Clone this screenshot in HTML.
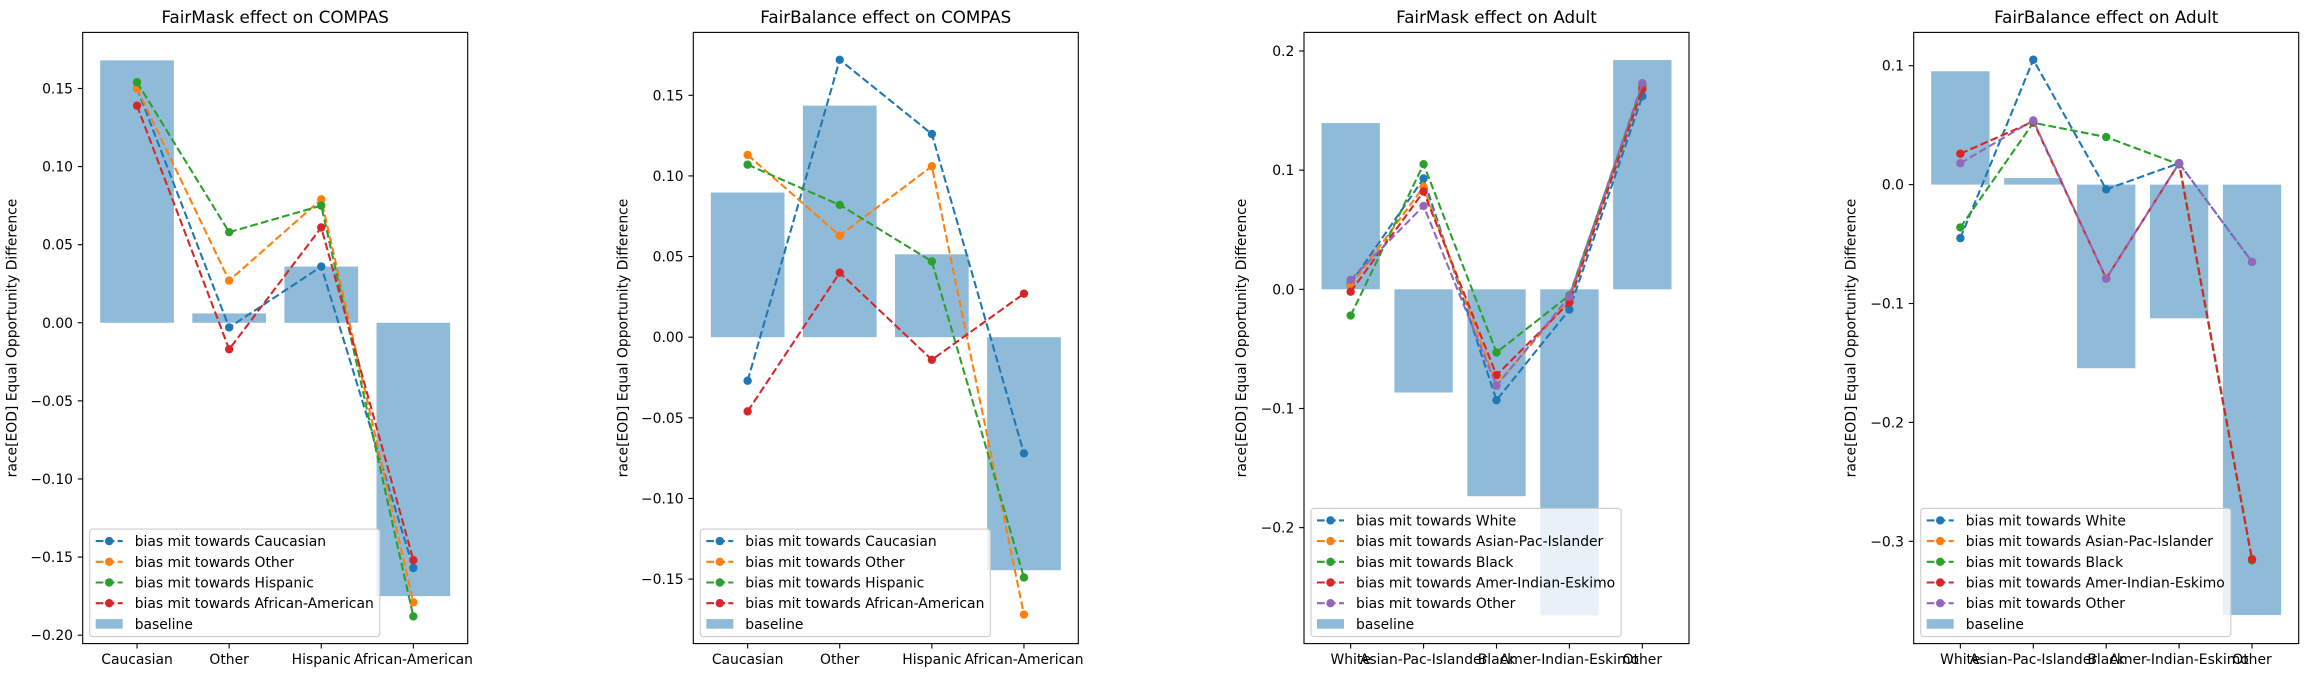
<!DOCTYPE html>
<html><head><meta charset="utf-8">
<style>
html,body{margin:0;padding:0;background:#fff;}
svg{display:block;font-family:"DejaVu Sans","Liberation Sans",sans-serif;}
</style></head>
<body>
<svg id="fig" width="2308" height="679" viewBox="0 0 2308 679" xmlns="http://www.w3.org/2000/svg"></svg>
<script>
// ---------- data ----------
const p1Title = "FairMask effect on COMPAS";
const p1Cats = ["Caucasian","Other","Hispanic","African-American"];
const p1Baseline = [0.168, 0.006, 0.036, -0.175];
const p1SeriesNames = ["bias mit towards Caucasian","bias mit towards Other","bias mit towards Hispanic","bias mit towards African-American"];
const p1S0 = [0.150, -0.003, 0.036, -0.157];
const p1S1 = [0.150, 0.027, 0.079, -0.179];
const p1S2 = [0.154, 0.058, 0.075, -0.188];
const p1S3 = [0.139, -0.017, 0.061, -0.152];
const p1Ticks = [-0.20,-0.15,-0.10,-0.05,0.00,0.05,0.10,0.15];
const p1TickLabels = ["−0.20","−0.15","−0.10","−0.05","0.00","0.05","0.10","0.15"];
const p1YLim = [-0.2054, 0.1859];

const p2Title = "FairBalance effect on COMPAS";
const p2Cats = ["Caucasian","Other","Hispanic","African-American"];
const p2Baseline = [0.0897, 0.1436, 0.0514, -0.1445];
const p2SeriesNames = p1SeriesNames;
const p2S0 = [-0.027, 0.172, 0.126, -0.072];
const p2S1 = [0.113, 0.063, 0.106, -0.172];
const p2S2 = [0.107, 0.082, 0.047, -0.149];
const p2S3 = [-0.046, 0.040, -0.014, 0.027];
const p2Ticks = [-0.15,-0.10,-0.05,0.00,0.05,0.10,0.15];
const p2TickLabels = ["−0.15","−0.10","−0.05","0.00","0.05","0.10","0.15"];
const p2YLim = [-0.190, 0.189];

const p3Title = "FairMask effect on Adult";
const p3Cats = ["White","Asian-Pac-Islander","Black","Amer-Indian-Eskimo","Other"];
const p3Baseline = [0.1395, -0.0866, -0.1736, -0.2736, 0.1924];
const p3SeriesNames = ["bias mit towards White","bias mit towards Asian-Pac-Islander","bias mit towards Black","bias mit towards Amer-Indian-Eskimo","bias mit towards Other"];
const p3S0 = [0.005, 0.093, -0.093, -0.017, 0.162];
const p3S1 = [0.003, 0.086, -0.080, -0.009, 0.170];
const p3S2 = [-0.022, 0.105, -0.053, -0.005, 0.171];
const p3S3 = [-0.002, 0.082, -0.072, -0.011, 0.168];
const p3S4 = [0.008, 0.070, -0.081, -0.006, 0.173];
const p3Ticks = [-0.2,-0.1,0.0,0.1,0.2];
const p3TickLabels = ["−0.2","−0.1","0.0","0.1","0.2"];
const p3YLim = [-0.2973, 0.2156];

const p4Title = "FairBalance effect on Adult";
const p4Cats = p3Cats;
const p4Baseline = [0.0953, 0.0055, -0.1544, -0.1124, -0.362];
const p4SeriesNames = p3SeriesNames;
const p4S0 = [-0.045, 0.105, -0.004, 0.018, -0.065];
const p4S1 = [0.026, 0.053, -0.079, 0.018, -0.315];
const p4S2 = [-0.036, 0.052, 0.040, 0.017, -0.316];
const p4S3 = [0.026, 0.053, -0.079, 0.018, -0.315];
const p4S4 = [0.018, 0.054, -0.079, 0.018, -0.065];
const p4Ticks = [-0.3,-0.2,-0.1,0.0,0.1];
const p4TickLabels = ["−0.3","−0.2","−0.1","0.0","0.1"];
const p4YLim = [-0.386, 0.128];

const colors = ["#1f77b4","#ff7f0e","#2ca02c","#d62728","#9467bd"];
const NS = "http://www.w3.org/2000/svg";
const svg = document.getElementById("fig");
function mk(tag, attrs, parent){
  const e = document.createElementNS(NS, tag);
  for (const k in attrs) e.setAttribute(k, attrs[k]);
  (parent||svg).appendChild(e);
  return e;
}

function panel(idx, left, ylabOff, title, cats, baseline, names, series, ticks, tickLabels, ylim){
  const top = 32.4, bottom = 643.6, width = 385, right = left + width;
  const n = cats.length;
  const xmin = -0.4 - 0.05*(n - 0.2), xmax = n - 1 + 0.4 + 0.05*(n - 0.2);
  const xS = v => left + (v - xmin) / (xmax - xmin) * width;
  const yS = v => bottom - (v - ylim[0]) / (ylim[1] - ylim[0]) * (bottom - top);
  const unit = xS(1) - xS(0);
  const g = mk("g", {});
  
  

  const t = mk("text", {x: left + width/2, y: 23, "text-anchor":"middle", "font-size":"16.7"}, g);
  
  
  t.textContent = title;

  // bars
  baseline.forEach((v, i) => {
    const y0 = yS(0), y1 = yS(v);
    const r = mk("rect", {x: xS(i) - 0.4*unit, y: Math.min(y0,y1), width: 0.8*unit, height: Math.abs(y1-y0), fill:"#1f77b4", "fill-opacity":"0.5"}, g);
    
    
  });

  // lines
  series.forEach((s, si) => {
    const sg = mk("g", {}, g);
    
    
    const pts = s.map((v, i) => xS(i).toFixed(2) + "," + yS(v).toFixed(2)).join(" ");
    mk("polyline", {points: pts, fill:"none", stroke: colors[si], "stroke-width":"2.08", "stroke-dasharray":"7.7,3.3"}, sg);
    s.forEach((v, i) => {
      const c = mk("circle", {cx: xS(i), cy: yS(v), r: 4.2, fill: colors[si]}, sg);
      
      
    });
  });

  // axes frame
  const fr = mk("rect", {x: left, y: top, width: width, height: bottom-top, fill:"none", stroke:"#000", "stroke-width":"1.1"}, g);
  
  

  // y ticks
  ticks.forEach((v, i) => {
    const y = yS(v);
    mk("line", {x1:left-4.9, x2:left, y1:y, y2:y, stroke:"#000", "stroke-width":"1.1"}, g);
    const tl = mk("text", {x:left-9.7, y:y+5, "text-anchor":"end", "font-size":"13.9"}, g);
    
    
    tl.textContent = tickLabels[i];
  });
  // x ticks
  cats.forEach((c, i) => {
    const x = xS(i);
    mk("line", {x1:x, x2:x, y1:bottom, y2:bottom+4.9, stroke:"#000", "stroke-width":"1.1"}, g);
    const tl = mk("text", {x:x, y:bottom+20.5, "text-anchor":"middle", "font-size":"13.9"}, g);
    
    
    tl.textContent = c;
  });
  // y label
  const yl = mk("text", {x:0, y:0, "text-anchor":"middle", "font-size":"13.9", transform:`translate(${left-ylabOff},${(top+bottom)/2}) rotate(-90)`}, g);
  
  
  yl.textContent = "race[EOD] Equal Opportunity Difference";

  // legend
  const rows = names.length + 1, rowH = 20.7;
  const lg = mk("g", {}, g);
  
  
  const box = mk("rect", {x:left+7, y:0, width:10, height:0, rx:3, fill:"#fff", "fill-opacity":"0.8", stroke:"#cccccc", "stroke-width":"1.1"}, lg);
  const lx = left + 7, lbot = bottom - 7;
  const ltop = lbot - (rows * rowH + 4);
  box.setAttribute("y", ltop);
  box.setAttribute("height", lbot - ltop);
  let maxW = 0;
  const allNames = names.concat(["baseline"]);
  allNames.forEach((nm, i) => {
    const cy = ltop + 12 + i * rowH;
    const eg = mk("g", {}, lg);
    
    
    if (i < names.length) {
      mk("line", {x1:lx+6, x2:lx+33, y1:cy, y2:cy, stroke:colors[i], "stroke-width":"2.08", "stroke-dasharray":"7.7,3.3"}, eg);
      mk("circle", {cx:lx+19.5, cy:cy, r:4.2, fill:colors[i]}, eg);
    } else {
      mk("rect", {x:lx+6, y:cy-4.8, width:27, height:9.6, fill:"#1f77b4", "fill-opacity":"0.5"}, eg);
    }
    const tx = mk("text", {x:lx+45, y:cy+5, "font-size":"13.9"}, eg);
    tx.textContent = nm;
    maxW = Math.max(maxW, tx.getComputedTextLength());
  });
  box.setAttribute("width", 45 + maxW + 6);
}

panel(0, 82.7, 66, p1Title, p1Cats, p1Baseline, p1SeriesNames, [p1S0,p1S1,p1S2,p1S3], p1Ticks, p1TickLabels, p1YLim);
panel(1, 693.3, 66, p2Title, p2Cats, p2Baseline, p2SeriesNames, [p2S0,p2S1,p2S2,p2S3], p2Ticks, p2TickLabels, p2YLim);
panel(2, 1304, 58, p3Title, p3Cats, p3Baseline, p3SeriesNames, [p3S0,p3S1,p3S2,p3S3,p3S4], p3Ticks, p3TickLabels, p3YLim);
panel(3, 1913.7, 58, p4Title, p4Cats, p4Baseline, p4SeriesNames, [p4S0,p4S1,p4S2,p4S3,p4S4], p4Ticks, p4TickLabels, p4YLim);
</script>
</body></html>
